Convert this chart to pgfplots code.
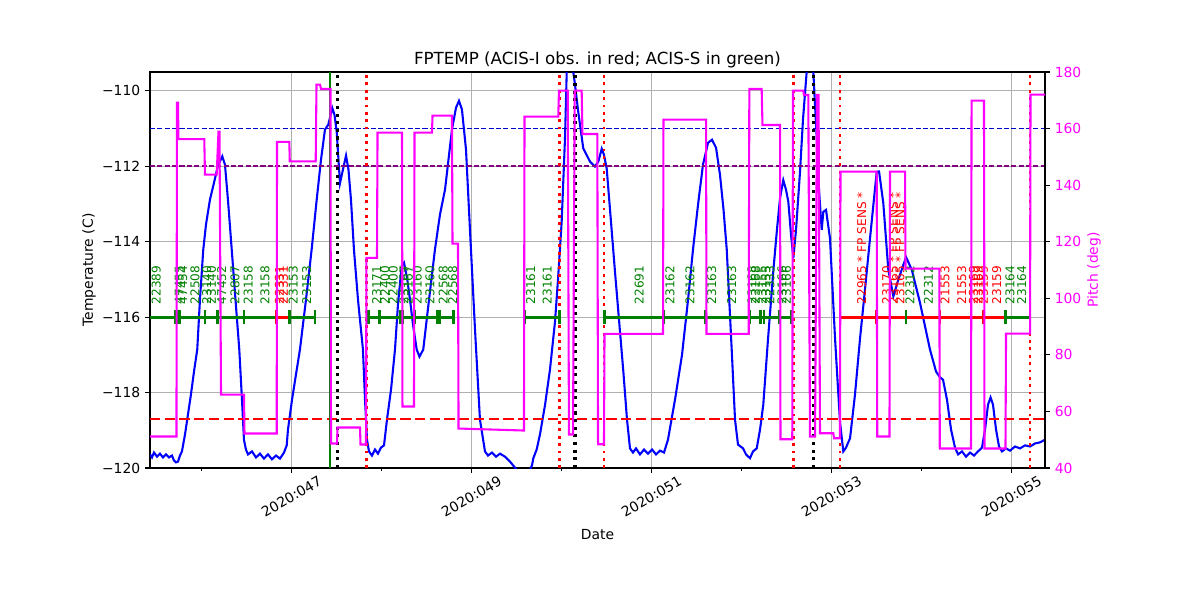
\documentclass[border=0pt]{standalone}
\usepackage{fontspec}
\setmainfont{DejaVu Sans}
\usepackage{pgfplots}
\pgfplotsset{compat=1.18}
\pgfplotsset{/pgf/number format/assume math mode=true}
\definecolor{mplgreen}{HTML}{008000}
\definecolor{mplpurple}{HTML}{800080}
\definecolor{gridgray}{HTML}{B0B0B0}
\definecolor{pmag}{HTML}{FF00FF}
\definecolor{pblue}{HTML}{0000FF}
\definecolor{pred}{HTML}{FF0000}
\begin{document}
\begin{tikzpicture}
\useasboundingbox (-108pt,-95.04pt) rectangle (756pt,336.96pt);
\begin{axis}[
  at={(0pt,0pt)}, anchor=south west, scale only axis,
  width=644.4pt, height=285.12pt,
  xmin=45.428, xmax=55.372, ymin=-120, ymax=-109.505,
  xtick={47,49,51,53,55},
  xticklabels={2020:047,2020:049,2020:051,2020:053,2020:055},
  minor xtick={46,48,50,52,54},
  ytick={-120,-118,-116,-114,-112,-110},
  yticklabels={−120,−118,−116,−114,−112,−110},
  xtick pos=left, ytick pos=left,
  tick align=outside,
  major tick length=3.5pt, minor tick length=2pt,
  every tick/.style={black, line width=0.8pt},
  axis line style={line width=0.8pt},
  grid=major, major grid style={gridgray, line width=0.8pt},
  tick label style={font=\fontsize{10}{12}\selectfont},
  xticklabel style={yshift=-17pt, rotate=30, anchor=center},
  title={FPTEMP (ACIS-I obs. in red; ACIS-S in green)},
  title style={font=\fontsize{12}{14}\selectfont, at={(axis description cs:0.5,1)}, anchor=base, yshift=-0.7pt},
  xlabel={Date},
  xlabel style={font=\fontsize{10}{12}\selectfont, at={(axis description cs:0.5,0)}, anchor=base, yshift=-51.8pt},
  ylabel={Temperature (C)},
  ylabel style={font=\fontsize{10}{12}\selectfont, at={(axis description cs:-0.0637,0.5)}, anchor=base},
]
% temperature
\addplot[pblue, line width=1.5pt] coordinates {
(45.428,-119.64) (45.450,-119.72) (45.472,-119.59) (45.506,-119.70) (45.539,-119.62)
(45.572,-119.72) (45.606,-119.64) (45.639,-119.72) (45.672,-119.67) (45.694,-119.80)
(45.717,-119.85) (45.739,-119.83) (45.761,-119.67) (45.783,-119.56) (45.817,-119.11)
(45.850,-118.58) (45.883,-118.05) (45.917,-117.44) (45.953,-116.86) (45.983,-115.54)
(46.020,-114.21) (46.050,-113.55) (46.094,-112.89) (46.139,-112.44) (46.183,-111.99)
(46.231,-111.74) (46.261,-111.96) (46.294,-112.89) (46.336,-114.21) (46.378,-115.54)
(46.420,-116.86) (46.450,-118.19) (46.472,-119.25) (46.494,-119.51) (46.517,-119.64)
(46.561,-119.56) (46.606,-119.72) (46.650,-119.62) (46.694,-119.75) (46.739,-119.64)
(46.783,-119.77) (46.828,-119.67) (46.872,-119.75) (46.917,-119.59) (46.947,-119.40)
(46.961,-118.98) (47.006,-118.19) (47.050,-117.52) (47.094,-116.86) (47.161,-115.54)
(47.224,-114.21) (47.280,-112.89) (47.328,-111.83) (47.372,-111.03) (47.409,-110.90)
(47.453,-110.46) (47.478,-110.64) (47.502,-111.08) (47.522,-111.83) (47.539,-112.45)
(47.572,-112.09) (47.606,-111.72) (47.633,-112.09) (47.661,-112.89) (47.694,-114.21)
(47.739,-115.54) (47.794,-116.86) (47.817,-118.19) (47.839,-119.25) (47.861,-119.56)
(47.894,-119.67) (47.928,-119.51) (47.961,-119.62) (47.994,-119.46) (48.028,-119.40)
(48.061,-118.72) (48.106,-117.92) (48.150,-116.86) (48.183,-115.67) (48.224,-114.65)
(48.250,-114.56) (48.283,-114.95) (48.317,-115.54) (48.350,-116.20) (48.391,-116.86)
(48.422,-117.05) (48.464,-116.86) (48.528,-115.54) (48.594,-114.21) (48.650,-113.28)
(48.706,-112.62) (48.783,-111.03) (48.828,-110.45) (48.861,-110.27) (48.894,-110.50)
(48.939,-111.56) (48.983,-113.68) (49.039,-116.33) (49.094,-118.72) (49.150,-119.56)
(49.183,-119.67) (49.228,-119.59) (49.272,-119.70) (49.317,-119.62) (49.372,-119.70)
(49.428,-119.83) (49.483,-119.99) (49.539,-120.17) (49.628,-120.17) (49.672,-119.93)
(49.687,-119.74) (49.724,-119.51) (49.761,-119.11) (49.817,-118.33) (49.872,-117.39)
(49.928,-116.12) (49.961,-115.01) (50.002,-113.47) (50.039,-111.26) (50.058,-109.50)
(50.083,-108.70) (50.111,-108.70) (50.131,-109.50) (50.150,-109.84) (50.186,-110.56)
(50.242,-111.53) (50.317,-111.88) (50.372,-112.01) (50.409,-111.88) (50.447,-111.54)
(50.472,-111.70) (50.502,-112.06) (50.539,-113.15) (50.594,-114.79) (50.687,-117.44)
(50.728,-118.72) (50.761,-119.48) (50.794,-119.59) (50.828,-119.48) (50.872,-119.64)
(50.917,-119.51) (50.961,-119.62) (51.006,-119.51) (51.050,-119.64) (51.094,-119.54)
(51.139,-119.59) (51.183,-119.25) (51.261,-118.19) (51.339,-117.00) (51.406,-115.54)
(51.461,-114.21) (51.517,-113.02) (51.572,-111.96) (51.628,-111.38) (51.672,-111.30)
(51.717,-111.51) (51.761,-112.23) (51.800,-113.15) (51.836,-114.21) (51.891,-116.86)
(51.928,-118.72) (51.961,-119.38) (52.017,-119.48) (52.050,-119.64) (52.094,-119.74)
(52.128,-119.56) (52.169,-119.48) (52.206,-118.98) (52.242,-118.32) (52.294,-116.60)
(52.353,-114.79) (52.394,-113.68) (52.428,-112.85) (52.464,-112.37) (52.494,-112.62)
(52.520,-112.94) (52.550,-113.81) (52.576,-114.44) (52.606,-113.68) (52.650,-112.15)
(52.683,-110.77) (52.724,-109.50) (52.744,-108.70) (52.778,-108.70) (52.798,-109.50)
(52.836,-111.26) (52.861,-112.62) (52.891,-113.69) (52.909,-113.21) (52.939,-113.16)
(52.983,-113.91) (53.039,-116.56) (53.094,-118.77) (53.131,-119.56) (53.161,-119.46)
(53.206,-119.21) (53.261,-118.05) (53.317,-116.56) (53.372,-115.27) (53.428,-113.91)
(53.502,-112.15) (53.528,-112.14) (53.575,-112.97) (53.631,-114.74) (53.687,-115.45)
(53.742,-115.01) (53.828,-114.41) (53.891,-114.74) (53.983,-115.62) (54.094,-116.86)
(54.161,-117.44) (54.206,-117.60) (54.239,-117.66) (54.283,-118.19) (54.328,-118.98)
(54.372,-119.46) (54.406,-119.64) (54.450,-119.56) (54.494,-119.70) (54.539,-119.59)
(54.583,-119.67) (54.628,-119.56) (54.672,-119.46) (54.706,-118.98) (54.739,-118.32)
(54.767,-118.13) (54.794,-118.32) (54.828,-118.98) (54.861,-119.43) (54.894,-119.56)
(54.939,-119.48) (54.983,-119.54) (55.039,-119.43) (55.094,-119.48) (55.150,-119.40)
(55.206,-119.43) (55.261,-119.35) (55.317,-119.32) (55.372,-119.25)
};
% horizontal limits
\addplot[pblue!80!black, line width=1pt, dash pattern=on 3.7pt off 1.6pt] coordinates {(45.428,-111) (55.372,-111)};
\addplot[mplpurple, line width=1pt, dash pattern=on 3.7pt off 1.6pt] coordinates {(45.428,-112) (55.372,-112)};
\addplot[pred, line width=2pt, dash pattern=on 7.4pt off 3.2pt] coordinates {(45.428,-118.70) (55.372,-118.70)};
% vertical lines
\addplot[mplgreen, line width=2pt] coordinates {(47.428,-120) (47.428,-109.505)};
\addplot[black, line width=2.2pt, dash pattern=on 2.2pt off 3.3pt] coordinates {(47.509,-120) (47.509,-109.505)};
\addplot[black, line width=2.2pt, dash pattern=on 2.2pt off 3.3pt] coordinates {(50.150,-120) (50.150,-109.505)};
\addplot[black, line width=2.2pt, dash pattern=on 2.2pt off 3.3pt] coordinates {(52.798,-120) (52.798,-109.505)};
\addplot[pred, line width=2pt, dash pattern=on 2pt off 3.3pt] coordinates {(47.836,-120) (47.836,-109.505)};
\addplot[pred, line width=2pt, dash pattern=on 2pt off 3.3pt] coordinates {(49.976,-120) (49.976,-109.505)};
\addplot[pred, line width=2pt, dash pattern=on 2pt off 3.3pt] coordinates {(50.472,-120) (50.472,-109.505)};
\addplot[pred, line width=2pt, dash pattern=on 2pt off 3.3pt] coordinates {(52.576,-120) (52.576,-109.505)};
\addplot[pred, line width=2pt, dash pattern=on 2pt off 3.3pt] coordinates {(53.094,-120) (53.094,-109.505)};
\addplot[pred, line width=2pt, dash pattern=on 2pt off 3.3pt] coordinates {(55.206,-120) (55.206,-109.505)};
% observation bars
\addplot[mplgreen, line width=2.2pt] coordinates {(45.428,-116) (46.836,-116)};
\addplot[pred, line width=2.2pt] coordinates {(46.836,-116) (46.976,-116)};
\addplot[mplgreen, line width=2.2pt] coordinates {(46.976,-116) (47.261,-116)};
\addplot[mplgreen, line width=2.2pt] coordinates {(47.853,-116) (48.798,-116)};
\addplot[mplgreen, line width=2.2pt] coordinates {(49.594,-116) (49.976,-116)};
\addplot[mplgreen, line width=2.2pt] coordinates {(50.476,-116) (52.558,-116)};
\addplot[pred, line width=2.2pt] coordinates {(53.094,-116) (54.936,-116)};
\addplot[mplgreen, line width=2.2pt] coordinates {(54.936,-116) (55.206,-116)};
\addplot[only marks, mark=|, mark size=5.2pt, mplgreen, mark options={line width=2pt}] coordinates {
(45.706,-116) (45.739,-116) (45.761,-116) (46.039,-116) (46.176,-116) (46.472,-116)
(46.976,-116) (47.261,-116) (47.853,-116) (47.976,-116) (48.213,-116) (48.236,-116)
(48.372,-116) (48.620,-116) (48.642,-116) (48.798,-116) (49.594,-116) (49.976,-116)
(50.476,-116) (51.139,-116) (51.602,-116) (52.087,-116) (52.213,-116) (52.250,-116)
(52.420,-116) (52.558,-116) (53.828,-116) (54.936,-116)};
\addplot[only marks, mark=|, mark size=5.2pt, pred, mark options={line width=2pt}] coordinates {
(46.836,-116) (53.502,-116) (53.650,-116) (54.206,-116) (54.550,-116) (54.687,-116)};
% observation labels
\addplot[draw=none, mark=none, nodes near coords, point meta=explicit symbolic,
  every node near coord/.append style={rotate=90, anchor=west, inner sep=0pt, text=mplgreen, font=\fontsize{8.7}{10}\selectfont}]
  table[x=x, y=y, meta=lab, col sep=comma, row sep=\\] {
x,y,lab\\
45.498,-115.67,22389\\
45.753,-115.67,47455\\
45.792,-115.67,47454\\
45.928,-115.67,22508\\
46.058,-115.67,23140\\
46.111,-115.67,23140\\
46.224,-115.67,47452\\
46.372,-115.67,22807\\
46.520,-115.67,23158\\
46.706,-115.67,23158\\
47.020,-115.67,23153\\
47.169,-115.67,23153\\
47.947,-115.67,23171\\
48.039,-115.67,22400\\
48.131,-115.67,22400\\
48.250,-115.67,23167\\
48.298,-115.67,23167\\
48.398,-115.67,23160\\
48.539,-115.67,23160\\
48.687,-115.67,22568\\
48.791,-115.67,22568\\
49.658,-115.67,23161\\
49.842,-115.67,23161\\
50.864,-115.67,22691\\
51.206,-115.67,23162\\
51.428,-115.67,23162\\
51.669,-115.67,23163\\
51.891,-115.67,23163\\
52.117,-115.67,23168\\
52.156,-115.67,23168\\
52.228,-115.67,23155\\
52.272,-115.67,23155\\
52.317,-115.67,22333\\
52.450,-115.67,23166\\
52.500,-115.67,23166\\
53.872,-115.67,22312\\
54.076,-115.67,22312\\
54.983,-115.67,23164\\
55.113,-115.67,23164\\
};
\addplot[draw=none, mark=none, nodes near coords, point meta=explicit symbolic,
  every node near coord/.append style={rotate=90, anchor=west, inner sep=0pt, text=pred, font=\fontsize{8.7}{10}\selectfont}]
  table[x=x, y=y, meta=lab, col sep=comma, row sep=\\] {
x,y,lab\\
46.867,-115.67,22331\\
46.911,-115.67,22331\\
53.336,-115.67,22965 * FP SENS *\\
53.613,-115.67,23170\\
53.689,-115.67,23165 * FP SENS *\\
53.761,-115.67,23165 * FP SENS *\\
54.261,-115.67,21553\\
54.447,-115.67,21553\\
54.576,-115.67,23169\\
54.631,-115.67,23169\\
54.687,-115.67,23159\\
54.836,-115.67,23159\\
};
\end{axis}
\begin{axis}[
  at={(0pt,0pt)}, anchor=south west, scale only axis,
  width=644.4pt, height=285.12pt,
  xmin=45.428, xmax=55.372, ymin=40, ymax=180,
  axis x line=none, axis y line*=right,
  ytick={40,60,80,100,120,140,160,180},
  ytick pos=right, tick align=outside, major tick length=3.5pt,
  every tick/.style={black, line width=0.8pt},
  axis line style={line width=0.8pt},
  tick label style={font=\fontsize{10}{12}\selectfont},
  yticklabel style={text=pmag},
  ylabel={Pitch (deg)},
  ylabel style={font=\fontsize{10}{12}\selectfont, text=pmag, at={(axis description cs:1.0592,0.5)}, anchor=base},
]
\addplot[pmag, line width=1.5pt] coordinates {
(45.428,51.13) (45.722,51.13) (45.728,169.15) (45.739,169.15) (45.744,156.25)
(46.031,156.25) (46.039,143.71) (46.169,143.71) (46.189,158.90) (46.200,158.90)
(46.217,65.97) (46.472,65.97) (46.478,52.19) (46.836,52.19) (46.839,155.27)
(46.976,155.27) (46.981,148.41) (47.269,148.41) (47.278,175.51) (47.317,175.51)
(47.328,173.99) (47.433,173.99) (47.439,48.66) (47.506,48.66) (47.511,54.31)
(47.761,54.31) (47.767,48.30) (47.828,48.30) (47.833,114.28) (47.950,114.28)
(47.956,158.55) (48.228,158.55) (48.233,61.73) (48.361,61.73) (48.367,158.55)
(48.561,158.55) (48.567,164.56) (48.783,164.56) (48.789,119.33) (48.850,119.33)
(48.856,53.96) (49.583,53.25) (49.589,164.20) (49.964,164.20) (49.972,173.39)
(50.069,173.39) (50.083,51.84) (50.128,51.84) (50.147,173.39) (50.224,173.39)
(50.233,158.09) (50.398,158.09) (50.406,48.41) (50.472,48.41) (50.478,87.42)
(51.128,87.42) (51.133,163.14) (51.606,163.14) (51.611,87.42) (52.080,87.42)
(52.087,173.99) (52.224,173.99) (52.233,161.27) (52.428,161.27) (52.433,50.18)
(52.564,50.18) (52.572,173.39) (52.687,173.39) (52.694,171.87) (52.742,171.87)
(52.761,51.13) (52.817,51.13) (52.839,171.87) (52.856,171.87) (52.872,52.30)
(53.020,52.30) (53.028,50.53) (53.094,50.53) (53.100,144.77) (53.502,144.77)
(53.508,51.13) (53.644,51.13) (53.650,144.77) (53.817,144.77) (53.822,110.49)
(54.198,110.49) (54.203,46.89) (54.550,46.89) (54.556,169.86) (54.694,169.86)
(54.700,46.89) (54.933,46.89) (54.939,87.53) (55.206,87.53) (55.211,171.98)
(55.372,171.98)
};
\end{axis}
\end{tikzpicture}
\end{document}
